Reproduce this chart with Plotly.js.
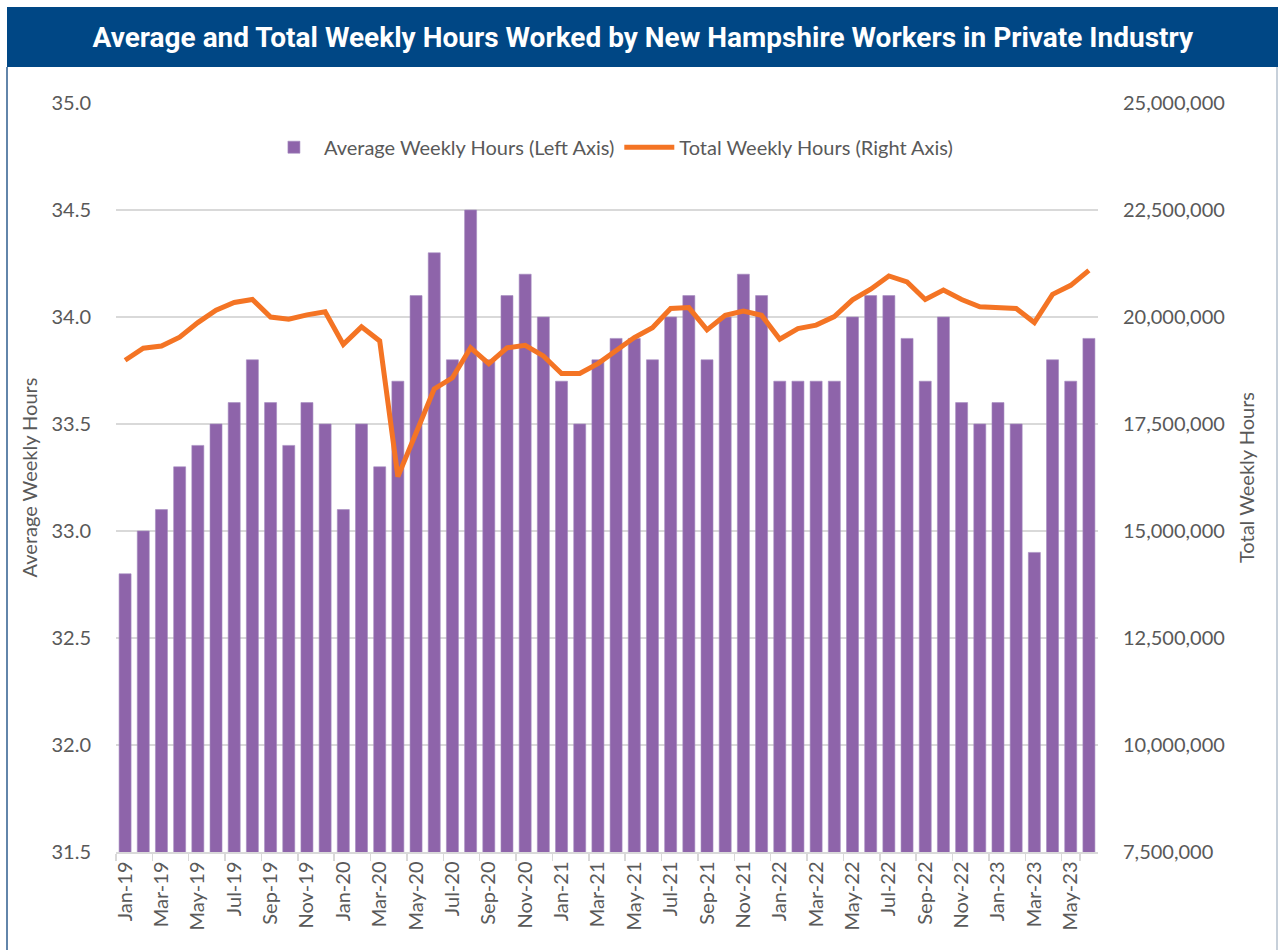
<!DOCTYPE html>
<html>
<head>
<meta charset="utf-8">
<script src="https://cdn.plot.ly/plotly-3.0.1.min.js"></script>
<style>
  html, body { margin: 0; padding: 0; background: #ffffff; }
  #chart { width: 1278px; height: 950px; }
</style>
</head>
<body>
<div id="chart"></div>
<script>
// ---- Data ----
var months = [
  "Jan-19","Feb-19","Mar-19","Apr-19","May-19","Jun-19","Jul-19","Aug-19","Sep-19","Oct-19","Nov-19","Dec-19",
  "Jan-20","Feb-20","Mar-20","Apr-20","May-20","Jun-20","Jul-20","Aug-20","Sep-20","Oct-20","Nov-20","Dec-20",
  "Jan-21","Feb-21","Mar-21","Apr-21","May-21","Jun-21","Jul-21","Aug-21","Sep-21","Oct-21","Nov-21","Dec-21",
  "Jan-22","Feb-22","Mar-22","Apr-22","May-22","Jun-22","Jul-22","Aug-22","Sep-22","Oct-22","Nov-22","Dec-22",
  "Jan-23","Feb-23","Mar-23","Apr-23","May-23","Jun-23"
];

var avgWeeklyHours = [
  32.8, 33.0, 33.1, 33.3, 33.4, 33.5, 33.6, 33.8, 33.6, 33.4, 33.6, 33.5,
  33.1, 33.5, 33.3, 33.7, 34.1, 34.3, 33.8, 34.5, 33.8, 34.1, 34.2, 34.0,
  33.7, 33.5, 33.8, 33.9, 33.9, 33.8, 34.0, 34.1, 33.8, 34.0, 34.2, 34.1,
  33.7, 33.7, 33.7, 33.7, 34.0, 34.1, 34.1, 33.9, 33.7, 34.0, 33.6, 33.5,
  33.6, 33.5, 32.9, 33.8, 33.7, 33.9
];

var totalWeeklyHours = [
  18990000, 19270000, 19320000, 19530000, 19870000, 20160000, 20340000, 20410000, 20000000, 19950000, 20050000, 20120000,
  19360000, 19770000, 19440000, 16270000, 17290000, 18320000, 18580000, 19280000, 18910000, 19280000, 19340000, 19090000,
  18680000, 18680000, 18910000, 19200000, 19520000, 19750000, 20200000, 20220000, 19700000, 20040000, 20140000, 20040000,
  19480000, 19730000, 19810000, 20010000, 20400000, 20650000, 20960000, 20820000, 20410000, 20630000, 20410000, 20240000,
  20220000, 20200000, 19870000, 20530000, 20740000, 21090000
];

var seriesNames = ["Average Weekly Hours (Left Axis)", "Total Weekly Hours (Right Axis)"];
var chartTitle = "Average and Total Weekly Hours Worked by New Hampshire Workers in Private Industry";
var leftAxisTitle = "Average Weekly Hours";
var rightAxisTitle = "Total Weekly Hours";

// tick labels: every other month
var tickLabels = months.filter(function (m, i) { return i % 2 === 0; });

// ---- Styles ----
var FONT = "Lato, 'Open Sans', sans-serif";
var GRAY = "#595959";

var traces = [
  {
    type: "bar",
    name: seriesNames[0],
    x: months,
    y: avgWeeklyHours,
    yaxis: "y",
    marker: { color: "#8E64AA", line: { color: "#A58BC0", width: 0.6 } },
    hoverinfo: "x+y"
  },
  {
    type: "scatter",
    mode: "lines",
    name: seriesNames[1],
    x: months,
    y: totalWeeklyHours,
    yaxis: "y2",
    line: { color: "#F47424", width: 5 },
    hoverinfo: "x+y"
  }
];

var layout = {
  width: 1278,
  height: 950,
  margin: { l: 116, r: 180, t: 103, b: 98 },
  paper_bgcolor: "#ffffff",
  plot_bgcolor: "#ffffff",
  font: { family: FONT, size: 20, color: GRAY },
  bargap: 0.34,
  showlegend: true,
  title: {
    text: "<b>" + chartTitle + "</b>",
    font: { family: "Roboto, 'DejaVu Sans', sans-serif", size: 28, color: "#ffffff" },
    xref: "container",
    yref: "container",
    x: 0.503,
    xanchor: "center",
    y: 1 - 37 / 950,
    yanchor: "middle"
  },
  legend: {
    orientation: "h",
    x: 0.504,
    xanchor: "center",
    y: 0.941,
    yanchor: "middle",
    font: { family: FONT, size: 20, color: GRAY },
    bgcolor: "rgba(0,0,0,0)",
    itemwidth: 50,
    tracegroupgap: 0
  },
  xaxis: {
    type: "category",
    tickmode: "array",
    tickvals: tickLabels,
    ticktext: tickLabels,
    tickson: "boundaries",
    tickangle: -90,
    ticks: "outside",
    ticklen: 7,
    tickcolor: "#D9D9D9",
    tickwidth: 1.5,
    showline: true,
    linecolor: "#D9D9D9",
    linewidth: 1.5,
    showgrid: false,
    zeroline: false,
    tickfont: { family: FONT, size: 20, color: GRAY },
    fixedrange: true
  },
  yaxis: {
    range: [31.5, 35.0],
    tickmode: "linear",
    tick0: 31.5,
    dtick: 0.5,
    tickformat: ".1f",
    showgrid: true,
    gridcolor: "#D9D9D9",
    gridwidth: 1.5,
    zeroline: false,
    showline: false,
    ticks: "",
    ticklabelstandoff: 24,
    tickfont: { family: FONT, size: 20, color: GRAY },
    title: { text: leftAxisTitle, font: { family: FONT, size: 20, color: GRAY }, standoff: 8 },
    fixedrange: true
  },
  yaxis2: {
    overlaying: "y",
    side: "right",
    range: [7500000, 25000000],
    tickmode: "linear",
    tick0: 7500000,
    dtick: 2500000,
    tickformat: ",d",
    showgrid: false,
    zeroline: false,
    showline: false,
    ticks: "",
    ticklabelstandoff: 24,
    tickfont: { family: FONT, size: 20, color: GRAY },
    title: { text: rightAxisTitle, font: { family: FONT, size: 20, color: GRAY }, standoff: 16 },
    fixedrange: true
  },
  shapes: [
    // title banner
    {
      type: "rect", xref: "paper", yref: "paper", layer: "below",
      x0: (7 - 116) / 982, x1: (1280 - 116) / 982,
      y0: (852 - 67) / 749, y1: (852 - 7) / 749,
      fillcolor: "#004785", line: { width: 0 }
    },
    // left border
    {
      type: "line", xref: "paper", yref: "paper", layer: "below",
      x0: (7 - 116) / 982, x1: (7 - 116) / 982,
      y0: (852 - 67) / 749, y1: (852 - 960) / 749,
      line: { color: "#2E5D8E", width: 1.5 }
    },
    // right border
    {
      type: "line", xref: "paper", yref: "paper", layer: "below",
      x0: (1277 - 116) / 982, x1: (1277 - 116) / 982,
      y0: (852 - 67) / 749, y1: (852 - 960) / 749,
      line: { color: "#B4C0CE", width: 1.5 }
    }
  ]
};

Plotly.newPlot("chart", traces, layout, { displayModeBar: false, staticPlot: true });
</script>
</body>
</html>
